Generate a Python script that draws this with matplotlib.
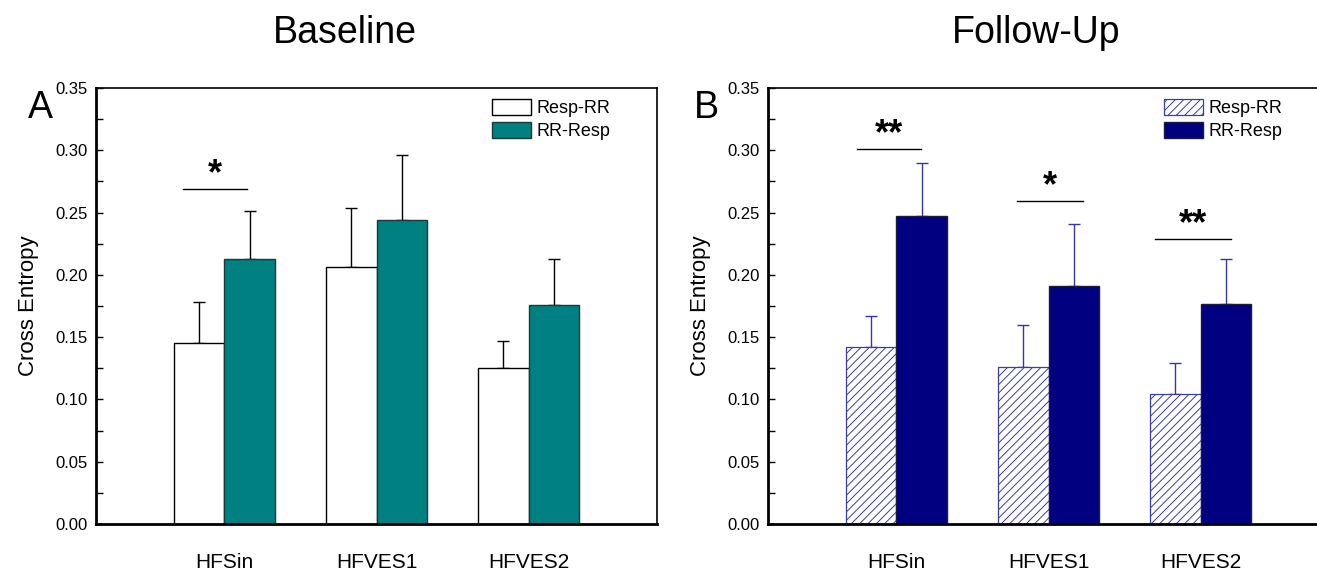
import numpy as np
import matplotlib
matplotlib.use('Agg')
import matplotlib.pyplot as plt
from matplotlib.ticker import MultipleLocator

plt.rcParams.update({
    'font.family': ['Liberation Sans', 'DejaVu Sans'],
    'hatch.linewidth': 0.7,
})

GROUPS = ['HFSin', 'HFVES1', 'HFVES2']
SERIES = ['Resp-RR', 'RR-Resp']

# baseline (panel A)
base_resp_rr = [0.145, 0.206, 0.125]
base_resp_rr_err = [0.033, 0.048, 0.022]
base_rr_resp = [0.213, 0.244, 0.176]
base_rr_resp_err = [0.038, 0.052, 0.037]
base_sig = ['*', '', '']
base_sig_y = [0.269, None, None]

# follow-up (panel B)
fu_resp_rr = [0.142, 0.126, 0.104]
fu_resp_rr_err = [0.025, 0.034, 0.025]
fu_rr_resp = [0.247, 0.191, 0.177]
fu_rr_resp_err = [0.043, 0.050, 0.036]
fu_sig = ['**', '*', '**']
fu_sig_y = [0.301, 0.259, 0.229]

W = 0.335
DPI = 100
fig = plt.figure(figsize=(1317 / DPI, 572 / DPI), dpi=DPI)


def px_axes(x0, x1, y0, y1):
    return fig.add_axes([x0 / 1317, (572 - y1) / 572, (x1 - x0) / 1317, (y1 - y0) / 572])


def panel(ax, a, a_err, b, b_err, sig, sig_y, sig_span, style):
    x = np.arange(1, len(GROUPS) + 1)
    if style == 'A':
        ax.bar(x - W / 2, a, W, color='white', edgecolor='black', linewidth=1.0,
               label=SERIES[0], zorder=2)
        ax.bar(x + W / 2, b, W, color='#008080', edgecolor='#1a3a3a', linewidth=1.0,
               label=SERIES[1], zorder=2)
        ecol = 'black'
    else:
        ax.bar(x - W / 2, a, W, color='white', edgecolor='#3a3aa8', hatch='////',
               linewidth=0.9, label=SERIES[0], zorder=2)
        ax.bar(x + W / 2, b, W, color='#000080', edgecolor='#1a1a40', linewidth=1.0,
               label=SERIES[1], zorder=2)
        ecol = '#3434b0'
    for xs, v, e in [(x - W / 2, a, a_err), (x + W / 2, b, b_err)]:
        ax.errorbar(xs, v, yerr=[np.zeros(len(e)), e], fmt='none', ecolor=ecol,
                    elinewidth=1.0, capsize=4, capthick=1.0, zorder=1)
    for xi, s, sy, span in zip(x, sig, sig_y, sig_span):
        if not s:
            continue
        l, r = span
        ax.plot([xi + l, xi + r], [sy, sy], color='black', linewidth=1.0)
        ax.text(xi + (l + r) / 2, sy + 0.004, s, ha='center', va='baseline',
                fontsize=26, fontweight='bold')

    ax.set_xlim(0.155, 3.845)
    ax.set_ylim(0, 0.35)
    ax.yaxis.set_minor_locator(MultipleLocator(0.025))
    ax.set_yticks(np.arange(0, 0.351, 0.05))
    ax.set_yticklabels([f'{t:.2f}' for t in np.arange(0, 0.351, 0.05)])
    ax.tick_params(axis='y', which='both', direction='in', length=5, width=1.0,
                   labelsize=12, pad=6)
    ax.set_xticks(x)
    ax.set_xticklabels(GROUPS, fontsize=15)
    ax.tick_params(axis='x', length=0, pad=21)
    ax.set_ylabel('Cross Entropy', fontsize=16, labelpad=12)
    for sp in ['top', 'right']:
        ax.spines[sp].set_linewidth(1.2)
    for sp in ['left', 'bottom']:
        ax.spines[sp].set_linewidth(2.0)
    ax.legend(loc='upper left', bbox_to_anchor=(0.705, 0.975), frameon=False,
              fontsize=13, handlelength=2.2, handleheight=1.0, handletextpad=0.3,
              labelspacing=0.25, borderpad=0, borderaxespad=0)


axA = px_axes(96, 657, 88, 524)
panel(axA, base_resp_rr, base_resp_rr_err, base_rr_resp, base_rr_resp_err,
      base_sig, base_sig_y, [(-0.276, 0.15), None, None], 'A')
axB = px_axes(768, 1329, 88, 524)
panel(axB, fu_resp_rr, fu_resp_rr_err, fu_rr_resp, fu_rr_resp_err,
      fu_sig, fu_sig_y, [(-0.26, 0.16), (-0.208, 0.229), (-0.30, 0.20)], 'B')

fig.text(345 / 1317, 1 - 33 / 572, 'Baseline', ha='center', va='center', fontsize=27)
fig.text(1036 / 1317, 1 - 33 / 572, 'Follow-Up', ha='center', va='center', fontsize=27)
fig.text(40 / 1317, 1 - 108 / 572, 'A', ha='center', va='center', fontsize=27)
fig.text(706 / 1317, 1 - 108 / 572, 'B', ha='center', va='center', fontsize=27)

fig.savefig('out.png', dpi=DPI)
